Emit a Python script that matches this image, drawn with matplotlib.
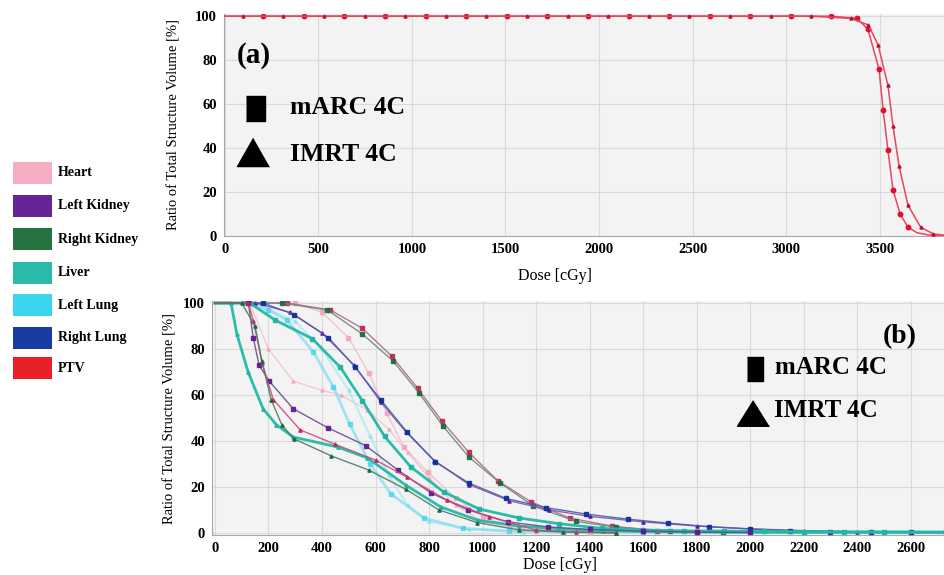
import matplotlib
matplotlib.use("Agg")
import matplotlib.pyplot as plt
from matplotlib.patches import Rectangle

plt.rcParams['font.family'] = ['Liberation Serif', 'DejaVu Serif']

# legend entries
organs = ['Heart', 'Left Kidney', 'Right Kidney', 'Liver', 'Left Lung', 'Right Lung', 'PTV']
organ_colors = ['#f6a9bf', '#5e1890', '#1a6b38', '#1fb5a5', '#2fd3ef', '#0a2f9e', '#e8141c']

# (a) PTV
ptv_marc_dose = [0, 205, 422, 639, 856, 1073, 1290, 1507, 1724, 1941, 2158, 2375, 2592, 2809, 3026, 3240,
                 3380, 3438, 3497, 3519, 3545, 3572, 3610, 3652, 3700, 3760, 3850]
ptv_marc_pct = [100, 100, 100, 100, 100, 100, 100, 100, 100, 100, 100, 100, 100, 100, 100, 100,
                99, 94, 76, 57.5, 39, 21, 10, 4, 1.5, 0.5, 0.2]
ptv_imrt_dose = [0, 96, 313, 530, 747, 964, 1181, 1398, 1615, 1832, 2049, 2266, 2483, 2700, 2917, 3134,
                 3347, 3440, 3492, 3545, 3572, 3604, 3652, 3720, 3786, 3850]
ptv_imrt_pct = [100, 100, 100, 100, 100, 100, 100, 100, 100, 100, 100, 100, 100, 100, 100, 100,
                99, 96, 87, 68.5, 50, 32, 14, 4, 1, 0.3]

# (b) organs at risk
kid_a_dose = [0, 270, 431, 551, 660, 757, 848, 949, 1058, 1182, 1325, 1482, 1650, 1800]
kid_a_pct = [100, 100, 97, 89, 77, 63, 48.7, 35, 22.6, 13.5, 6.5, 3, 1, 0.3]
rkid_marc_dose = [0, 250, 420, 551, 664, 762, 852, 949, 1066, 1190, 1350, 1500, 1700, 1900]
rkid_marc_pct = [100, 100, 97, 86.5, 75, 61, 46.5, 33, 21.7, 11.7, 5, 2.5, 0.8, 0.3]
rlung_marc_dose = [0, 180, 296, 424, 525, 619, 717, 822, 949, 1088, 1238, 1388, 1542, 1692, 1846,
                   2000, 2150, 2300, 2450, 2600, 2730]
rlung_marc_pct = [100, 100, 95, 85, 72, 58, 44, 31, 21.7, 15, 11, 8.2, 6, 4.3, 2.7,
                  1.7, 1, 0.6, 0.4, 0.3, 0.2]
rlung_imrt_dose = [0, 150, 280, 400, 520, 620, 713, 820, 950, 1100, 1250, 1400, 1600, 1800, 2000, 2200, 2400, 2730]
rlung_imrt_pct = [100, 100, 96, 87, 73, 57, 44, 31.5, 21, 14, 10, 7.2, 4.8, 3, 1.8, 1, 0.5, 0.2]
liver_marc_dose = [0, 130, 225, 364, 469, 551, 634, 732, 855, 987, 1137, 1287, 1445, 1595, 1752, 1902,
                   2050, 2200, 2350, 2500, 2730]
liver_marc_pct = [100, 100, 92.6, 84.5, 72, 57.5, 42, 28.7, 17.8, 10.4, 6.5, 4, 2, 1.3, 0.9, 0.8,
                  0.7, 0.6, 0.5, 0.5, 0.4]
liver_imrt_dose = [0, 60, 82, 124, 180, 230, 293, 458, 570, 713, 844, 983, 1137, 1283, 1450, 1600, 1800, 2000, 2730]
liver_imrt_pct = [100, 100, 86.5, 70, 54, 47, 41.7, 37.4, 32.6, 20.8, 11.3, 5.5, 3, 1.8, 1, 0.6, 0.4, 0.3, 0.2]
lkid_dose = [0, 125, 143, 165, 203, 293, 424, 563, 683, 807, 946, 1096, 1246, 1400, 1600, 1800, 2000]
lkid_pct = [100, 100, 85, 73, 66, 54, 45.6, 38, 27.4, 17.4, 10, 4.8, 2.6, 1.5, 0.8, 0.4, 0.2]
kid_b_dose = [0, 125, 144, 176, 218, 319, 450, 600, 717, 867, 1024, 1200, 1350, 1500]
kid_b_pct = [100, 100, 92, 74, 58, 44.8, 38.5, 31.7, 24.3, 14.3, 7, 1.3, 0.4, 0]
rkid_imrt_dose = [0, 100, 150, 175, 210, 250, 294, 435, 574, 713, 837, 980, 1137, 1300, 1500]
rkid_imrt_pct = [100, 100, 90, 75, 58, 47, 41, 33.5, 27.4, 19, 10, 4.5, 1.3, 0.4, 0]
llung_marc_dose = [0, 110, 200, 270, 368, 443, 503, 580, 657, 780, 927, 1100, 1300, 1600, 2000, 2730]
llung_marc_pct = [100, 100, 97, 92.5, 78.7, 63.5, 47.4, 30, 17, 6.5, 2, 0.8, 0.5, 0.4, 0.3, 0.2]
llung_imrt_dose = [0, 150, 300, 400, 500, 580, 650, 720, 800, 950, 1150, 1500, 2000]
llung_imrt_pct = [100, 100, 92, 80, 62, 42, 25, 12, 5, 1.5, 0.5, 0.3, 0.2]
heart_marc_dose = [0, 300, 400, 499, 574, 642, 706, 795, 900, 1000, 1100, 1200, 1400]
heart_marc_pct = [100, 100, 96, 85, 69.6, 52, 37.4, 26.5, 15, 7, 3, 1, 0]
heart_imrt_dose = [0, 130, 200, 293, 400, 470, 570, 650, 720, 800, 900, 1000, 1150, 1300]
heart_imrt_pct = [100, 100, 80, 66, 62, 60, 53.5, 45, 35, 24, 12, 5, 1.5, 0]

ticks_a = [0, 500, 1000, 1500, 2000, 2500, 3000, 3500]
ticks_b = [0, 200, 400, 600, 800, 1000, 1200, 1400, 1600, 1800, 2000, 2200, 2400, 2600]
ticks_y = [0, 20, 40, 60, 80, 100]

fig = plt.figure(figsize=(9.45, 5.75), dpi=100)
fig.patch.set_facecolor('white')

ax1 = fig.add_axes([224 / 945, (575 - 236) / 575, 721 / 945, 222 / 575])
ax2 = fig.add_axes([212 / 945, (575 - 535) / 575, 733 / 945, 234 / 575])


def style(ax, xticks, xlim, ylim):
    ax.set_facecolor('#f3f3f3')
    ax.set_xlim(*xlim)
    ax.set_ylim(*ylim)
    ax.set_xticks(xticks)
    ax.set_yticks(ticks_y)
    ax.grid(True, color='#dadada', linewidth=0.8)
    ax.set_axisbelow(True)
    for s in ['top', 'right']:
        ax.spines[s].set_visible(False)
    for s in ['left', 'bottom']:
        ax.spines[s].set_color('#a8a8a8')
        ax.spines[s].set_linewidth(0.8)
    ax.tick_params(length=0, pad=5, labelsize=10.5)
    for lab in ax.get_xticklabels() + ax.get_yticklabels():
        lab.set_fontweight('bold')
    ax.set_ylabel('Ratio of Total Structure Volume [%]', fontsize=10.5)
    ax.set_xlabel('Dose [cGy]', fontsize=11.5)


style(ax1, ticks_a, (-5, 3850), (0, 101))
style(ax2, ticks_b, (-11, 2728), (-0.9, 100.9))
ax1.yaxis.set_label_coords(-0.061, 0.5)
ax1.xaxis.set_label_coords(0.459, -0.145)
ax2.yaxis.set_label_coords(-0.048, 0.5)
ax2.xaxis.set_label_coords(0.475, -0.092)

# (a) curves
ax1.plot(ptv_marc_dose, ptv_marc_pct, color='#e8455f', lw=1.1, marker='o', ms=3.2,
         mfc='#e0102c', mec='#e0102c', markevery=slice(1, 24), zorder=3)
ax1.plot(ptv_imrt_dose, ptv_imrt_pct, color='#e8455f', lw=1.1, marker='^', ms=2.2,
         mfc='#c01030', mec='#c01030', markevery=slice(1, 25), zorder=3)

# (b) curves: (dose, pct, line colour, marker colour, marker, line width, alpha)
curves = [
    (heart_imrt_dose, heart_imrt_pct, '#f4b6c6', '#f4a0b8', '^', 1.0, 0.7),
    (heart_marc_dose, heart_marc_pct, '#f4b6c6', '#f4a0b8', 's', 1.0, 0.8),
    (llung_imrt_dose, llung_imrt_pct, '#9ee6f4', '#7fe0f2', '^', 1.6, 0.6),
    (llung_marc_dose, llung_marc_pct, '#7fdcf0', '#40d4ee', 's', 2.0, 0.7),
    (kid_a_dose, kid_a_pct, '#b06a8a', '#c8205a', 's', 1.0, 0.9),
    (rkid_marc_dose, rkid_marc_pct, '#6f8a7a', '#1a6b38', 's', 1.0, 0.9),
    (rlung_imrt_dose, rlung_imrt_pct, '#7a5aa8', '#5e1890', '^', 1.0, 0.9),
    (rlung_marc_dose, rlung_marc_pct, '#4a5aa8', '#0a2f9e', 's', 1.0, 0.9),
    (liver_marc_dose, liver_marc_pct, '#22b8a6', '#1fb5a5', 's', 2.0, 0.95),
    (liver_imrt_dose, liver_imrt_pct, '#22b8a6', '#1fb5a5', '^', 2.0, 0.95),
    (lkid_dose, lkid_pct, '#6a4a90', '#5e1890', 's', 1.0, 0.9),
    (kid_b_dose, kid_b_pct, '#d04a78', '#c8205a', '^', 1.0, 0.9),
    (rkid_imrt_dose, rkid_imrt_pct, '#4f7a60', '#1a6b38', '^', 1.0, 0.9),
]
for d, p, lc, mc, mk, lw, al in curves:
    ax2.plot(d, p, color=lc, lw=lw, alpha=al, marker=mk, ms=3.2 if mk == 's' else 2.4,
             mfc=mc, mec=mc, markevery=slice(1, None), zorder=3)

# key glyphs and panel labels
sq_a = [(-0.38, -0.5), (0.38, -0.5), (0.38, 0.5), (-0.38, 0.5)]
tri_a = [(0, 0.44), (-0.5, -0.44), (0.5, -0.44)]
ax1.plot([0.043], [0.577], transform=ax1.transAxes, marker=sq_a, ms=18, color='black', ls='none')
ax1.plot([0.040], [0.378], transform=ax1.transAxes, marker=tri_a, ms=23, color='black', ls='none')
ax1.text(0.0915, 0.58, 'mARC 4C', transform=ax1.transAxes, fontsize=18.5, fontweight='bold', va='center')
ax1.text(0.0915, 0.368, 'IMRT 4C', transform=ax1.transAxes, fontsize=18.5, fontweight='bold', va='center')
ax1.text(0.018, 0.815, '(a)', transform=ax1.transAxes, fontsize=21, fontweight='bold', va='center')

sq_b = [(-0.33, -0.5), (0.33, -0.5), (0.33, 0.5), (-0.33, 0.5)]
tri_b = [(0, 0.4), (-0.5, -0.4), (0.5, -0.4)]
ax2.plot([0.741], [0.709], transform=ax2.transAxes, marker=sq_b, ms=17, color='black', ls='none')
ax2.plot([0.738], [0.521], transform=ax2.transAxes, marker=tri_b, ms=23, color='black', ls='none')
ax2.text(0.768, 0.714, 'mARC 4C', transform=ax2.transAxes, fontsize=18, fontweight='bold', va='center')
ax2.text(0.767, 0.534, 'IMRT 4C', transform=ax2.transAxes, fontsize=18, fontweight='bold', va='center')
ax2.text(0.915, 0.846, '(b)', transform=ax2.transAxes, fontsize=20, fontweight='bold', va='center')

# organ legend on the left
leg_y = [173, 206, 239, 273, 305, 338, 368]
for name, col, yc in zip(organs, organ_colors, leg_y):
    fig.patches.append(Rectangle((13 / 945, 1 - (yc + 11) / 575), 39 / 945, 22 / 575,
                                 transform=fig.transFigure, facecolor=col, edgecolor='none', alpha=0.95))
    fig.text(58 / 945, 1 - yc / 575, name, fontsize=10, fontweight='bold', va='center')

fig.savefig('out.png', dpi=100, facecolor='white')
